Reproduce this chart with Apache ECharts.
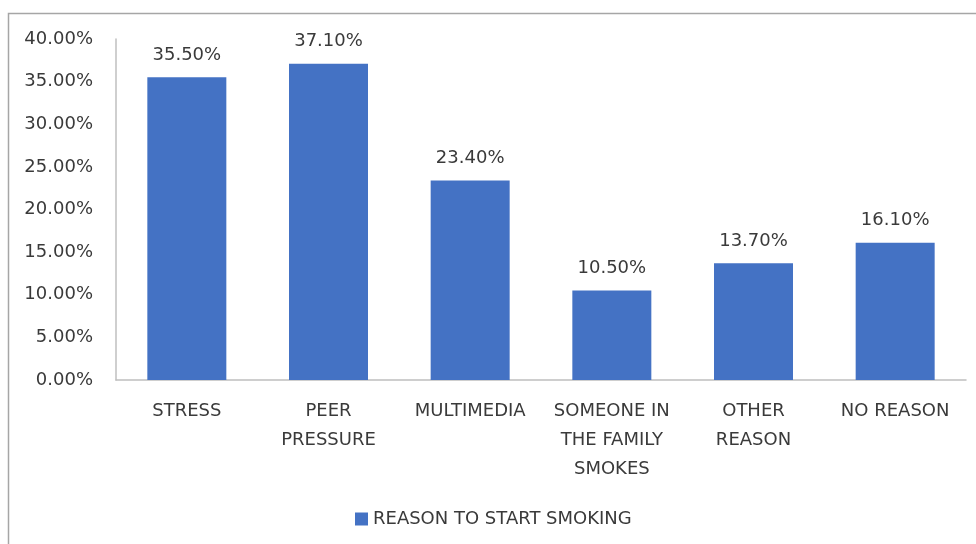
<!DOCTYPE html>
<html>
<head>
<meta charset="utf-8">
<script src="https://cdn.jsdelivr.net/npm/echarts@6/dist/echarts.min.js"></script>
<style>
  html, body { margin: 0; padding: 0; background: #fff; }
  #chart { width: 976px; height: 544px; }
</style>
</head>
<body>
<div id="chart"></div>
<script>
// categories and values
const categories = ["STRESS", "PEER\nPRESSURE", "MULTIMEDIA", "SOMEONE IN\nTHE FAMILY\nSMOKES", "OTHER\nREASON", "NO REASON"];
const values = [35.5, 37.1, 23.4, 10.5, 13.7, 16.1];
const seriesName = "REASON TO START SMOKING";

const font = "DejaVu Sans";
const textColor = "#3a3a3a";

const chart = echarts.init(document.getElementById("chart"));
chart.setOption({
  animation: false,
  textStyle: { fontFamily: font },
  graphic: [
    {
      type: "rect",
      shape: { x: 8.5, y: 13.5, width: 1000, height: 600 },
      style: { fill: "none", stroke: "#a6a6a6", lineWidth: 1.5 },
      silent: true,
    },
  ],
  grid: { left: 116, right: 10, top: 39, bottom: 164 },
  legend: {
    left: 350,
    top: 505,
    itemWidth: 13,
    itemHeight: 13,
    itemGap: 8,
    icon: "rect",
    textStyle: { fontFamily: font, fontSize: 18, color: textColor },
    data: [seriesName],
  },
  xAxis: {
    type: "category",
    data: categories,
    axisLine: { lineStyle: { color: "#bfbfbf", width: 1.5 } },
    axisTick: { show: false },
    axisLabel: {
      interval: 0,
      margin: 17,
      fontFamily: font,
      fontSize: 18,
      lineHeight: 29,
      color: textColor,
    },
  },
  yAxis: {
    type: "value",
    min: 0,
    max: 40,
    interval: 5,
    splitLine: { show: false },
    axisLine: { show: true, lineStyle: { color: "#bfbfbf", width: 1.5 } },
    axisTick: { show: false },
    axisLabel: {
      margin: 23,
      fontFamily: font,
      fontSize: 18,
      color: textColor,
      formatter: (v) => v.toFixed(2) + "%",
    },
  },
  series: [
    {
      name: seriesName,
      type: "bar",
      data: values,
      barWidth: 79,
      itemStyle: { color: "#4472C4" },
      label: {
        show: true,
        position: "top",
        distance: 13,
        fontFamily: font,
        fontSize: 18,
        color: textColor,
        formatter: (p) => p.value.toFixed(2) + "%",
      },
    },
  ],
});
</script>
</body>
</html>
